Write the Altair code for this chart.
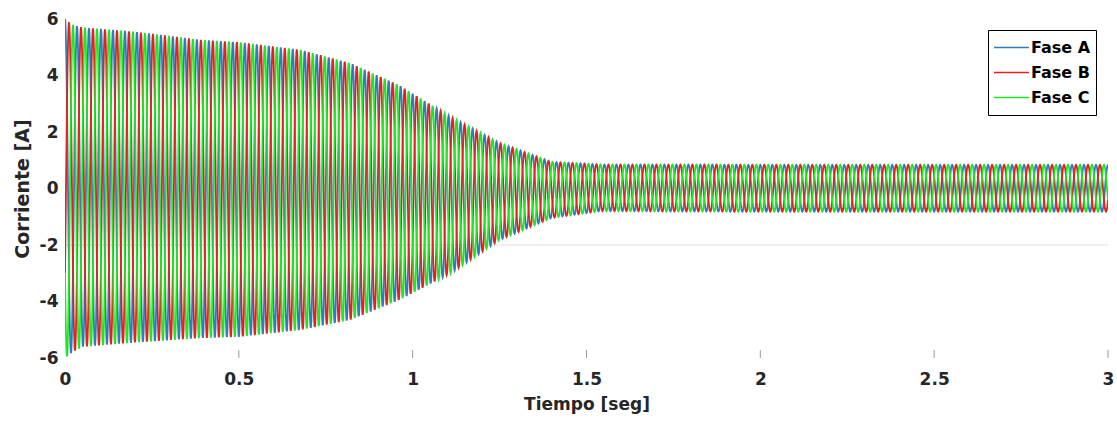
import numpy as np
import pandas as pd
import altair as alt

alt.data_transformers.disable_max_rows()

# Envelope of the three-phase current (time in s, current in A)
ENV_T = [0.0, 0.02, 0.05, 0.2, 0.39, 0.5, 0.68, 0.82, 0.96, 1.11, 1.25, 1.40, 1.54, 2.0, 3.0]
ENV_TOP = [6.0, 5.8, 5.7, 5.55, 5.26, 5.18, 4.90, 4.44, 3.66, 2.53, 1.61, 0.94, 0.85, 0.84, 0.84]
ENV_BOT = [-6.0, -5.8, -5.6, -5.45, -5.29, -5.25, -5.00, -4.65, -3.95, -2.99, -1.82, -1.04, -0.80, -0.82, -0.82]
APPARENT_FREQ_HZ = 29
PHASES = ["Fase A", "Fase B", "Fase C"]
PHASE_SHIFT_DEG = [0, -120, 120]
COLORS = ["#2f7dbd", "#e0231c", "#1fe61f"]
X_TICKS = [0.5, 1.0, 1.5, 2.0, 2.5, 3.0]
Y_GUIDE = [-2]

SAMPLES_PER_CYCLE = 36
t = np.linspace(0, 3, APPARENT_FREQ_HZ * 3 * SAMPLES_PER_CYCLE + 1)
top = np.interp(t, ENV_T, ENV_TOP)
bot = np.interp(t, ENV_T, ENV_BOT)
mid = (top + bot) / 2
amp = (top - bot) / 2

frames = []
for name, sh in zip(PHASES, PHASE_SHIFT_DEG):
    y = mid + amp * np.sin(2 * np.pi * APPARENT_FREQ_HZ * t + np.deg2rad(sh) + np.pi / 2)
    frames.append(pd.DataFrame({"t": t, "i": y, "fase": name}))
df = pd.concat(frames, ignore_index=True)

FONT = "DejaVu Sans"

x_scale = alt.Scale(domain=[0, 3], nice=False, zero=False)
y_scale = alt.Scale(domain=[-6, 6], nice=False)

guide = alt.Chart(pd.DataFrame({"y": Y_GUIDE})).mark_rule(
    color="#efefef", strokeWidth=2
).encode(y=alt.Y("y:Q", scale=y_scale))

lines = alt.Chart(df).mark_line(strokeWidth=1.8, clip=True).encode(
    x=alt.X(
        "t:Q",
        scale=x_scale,
        title="Tiempo [seg]",
        axis=alt.Axis(
            values=[0, 0.5, 1, 1.5, 2, 2.5, 3],
            format="~g",
            ticks=False,
            domain=False,
            grid=False,
            labelFlush=False,
            labelPadding=13,
            titlePadding=9,
            titleFontSize=17,
        ),
    ),
    y=alt.Y(
        "i:Q",
        scale=y_scale,
        title="Corriente [A]",
        axis=alt.Axis(
            values=[-6, -4, -2, 0, 2, 4, 6],
            labelExpr="datum.value < 0 ? '-' + abs(datum.value) : '' + datum.value",
            ticks=False,
            domain=False,
            grid=False,
            labelFlush=False,
            labelPadding=7,
            titlePadding=7,
            titleFontSize=19,
        ),
    ),
    color=alt.Color(
        "fase:N",
        scale=alt.Scale(domain=PHASES, range=COLORS),
        legend=alt.Legend(
            title=None,
            orient="none",
            legendX=923,
            legendY=11,
            symbolType="stroke",
            symbolSize=1225,
            symbolStrokeWidth=1.5,
            labelFont=FONT,
            labelFontWeight="bold",
            labelFontSize=16,
            labelColor="#000000",
            labelOffset=1,
            strokeColor="#000000",
            fillColor="#ffffff",
            padding=5,
            rowPadding=0,
            clipHeight=25,
        ),
    ),
)

ticks = alt.Chart(pd.DataFrame({"x": X_TICKS, "y0": [-6] * len(X_TICKS), "y1": [-5.72] * len(X_TICKS)})).mark_rule(
    color="#9a9a9a", strokeWidth=1
).encode(
    x=alt.X("x:Q", scale=x_scale),
    y=alt.Y("y0:Q", scale=y_scale),
    y2="y1:Q",
)

chart = (
    alt.layer(guide, lines, ticks)
    .properties(
        width=1043,
        height=339,
        autosize=alt.AutoSizeParams(type="none"),
        padding={"left": 65, "top": 19, "right": 9, "bottom": 70},
        background="white",
    )
    .configure_view(stroke=None)
    .configure_axis(
        labelFont=FONT,
        labelFontWeight="bold",
        labelFontSize=17,
        labelColor="#262626",
        titleFont=FONT,
        titleFontWeight="bold",
        titleColor="#262626",
    )
)

chart.save("out.html", embed_options={"renderer": "svg", "actions": False})
